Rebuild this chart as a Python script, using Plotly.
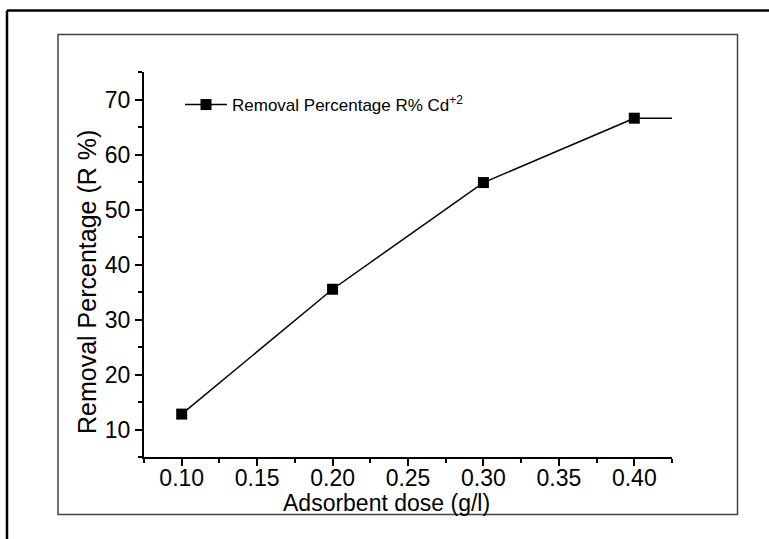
import plotly.graph_objects as go

# Data
dose = [0.10, 0.20, 0.30, 0.40]
removal = [12.8, 35.5, 54.9, 66.6]
x_range = [0.075, 0.425]
y_range = [5, 75]
x_ticks = [0.10, 0.15, 0.20, 0.25, 0.30, 0.35, 0.40]
x_ticklabels = ["0.10", "0.15", "0.20", "0.25", "0.30", "0.35", "0.40"]
y_ticks = [10, 20, 30, 40, 50, 60, 70]
series_name = "Removal Percentage R% Cd<sup>+2</sup>"

W, H = 769, 539
L, R, T, B = 144, 672, 72, 457  # plot area in pixels


def px(xp):
    return (xp - L) / (R - L)


def py(yp):
    return (B - yp) / (B - T)


FONT = "Liberation Sans, Arial, sans-serif"

fig = go.Figure()
fig.add_trace(go.Scatter(
    x=dose, y=removal, mode="lines+markers", name=series_name,
    line=dict(color="black", width=1.5),
    marker=dict(symbol="square", size=11, color="black"),
    showlegend=True,
))
# horizontal continuation after last point to the axis end
fig.add_trace(go.Scatter(
    x=[dose[-1] + 0.0026, x_range[1]], y=[removal[-1], removal[-1]],
    mode="lines", line=dict(color="black", width=1.5), showlegend=False,
    hoverinfo="skip",
))

fig.update_layout(
    width=W, height=H,
    margin=dict(l=L, r=W - R, t=T, b=H - B),
    paper_bgcolor="white", plot_bgcolor="white",
    font=dict(family=FONT, color="black", size=23),
    showlegend=True,
    legend=dict(
        x=px(180), y=py(87), xanchor="left", yanchor="top",
        bgcolor="rgba(0,0,0,0)", font=dict(size=17, family=FONT, color="black"),
        itemwidth=42, tracegroupgap=0,
    ),
)

fig.update_xaxes(
    range=x_range, showline=True, linecolor="black", linewidth=2,
    showgrid=False, zeroline=False,
    ticks="outside", ticklen=7, tickwidth=2, tickcolor="black",
    tickvals=x_ticks, ticktext=x_ticklabels,
    tickfont=dict(size=23, family=FONT, color="black"),
    ticklabelstandoff=-8,
    minor=dict(ticks="outside", ticklen=4, tickwidth=2, tickcolor="black", dtick=0.025, tick0=0.075),
)
fig.update_yaxes(
    range=y_range, showline=True, linecolor="black", linewidth=2,
    showgrid=False, zeroline=False,
    ticks="outside", ticklen=7, tickwidth=2, tickcolor="black",
    tickvals=y_ticks,
    tickfont=dict(size=23, family=FONT, color="black"),
    minor=dict(ticks="outside", ticklen=4, tickwidth=2, tickcolor="black", dtick=5, tick0=5),
)

# axis titles
fig.add_annotation(
    text="Adsorbent dose (g/l)", xref="paper", yref="paper",
    x=px(386.5), y=py(503), xanchor="center", yanchor="middle",
    showarrow=False, font=dict(size=23, family=FONT, color="black"),
)
fig.add_annotation(
    text="Removal Percentage (R %)", xref="paper", yref="paper",
    x=px(87), y=py(282), xanchor="center", yanchor="middle",
    showarrow=False, textangle=-90, font=dict(size=25, family=FONT, color="black"),
)

# frames
fig.add_shape(type="rect", xref="paper", yref="paper",
              x0=px(58), x1=px(737.5), y0=py(514.5), y1=py(34.5),
              line=dict(color="#444444", width=1.5), layer="below")
fig.add_shape(type="line", xref="paper", yref="paper",
              x0=px(7), x1=px(800), y0=py(10.5), y1=py(10.5),
              line=dict(color="black", width=2.5))
fig.add_shape(type="line", xref="paper", yref="paper",
              x0=px(7), x1=px(7), y0=py(10.5), y1=py(600),
              line=dict(color="black", width=2.5))

fig.write_html("out.html")
